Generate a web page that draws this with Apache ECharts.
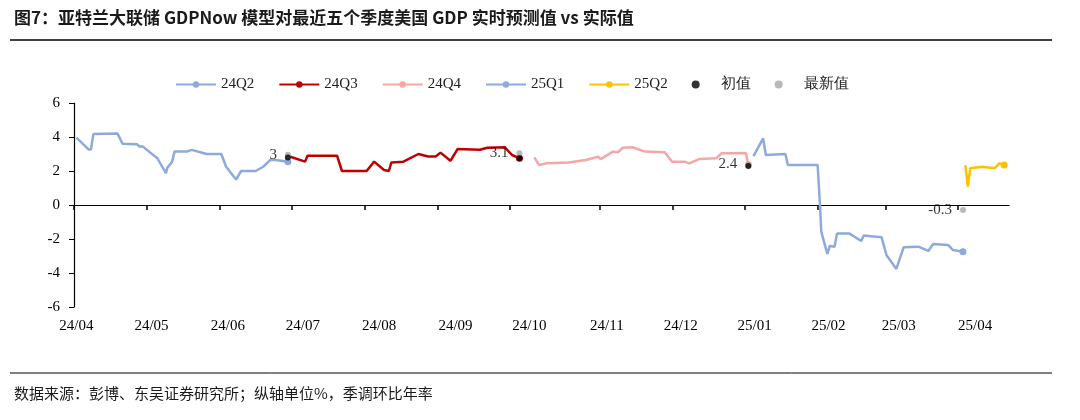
<!DOCTYPE html>
<html>
<head>
<meta charset="utf-8">
<script src="https://cdn.jsdelivr.net/npm/echarts@6/dist/echarts.min.js"></script>
<style>
  html, body { margin: 0; padding: 0; background: #fff; }
  #main { width: 1080px; height: 420px; }
</style>
</head>
<body>
<div id="main"></div>
<script>
// x = days since 2024-04-01
var tickDays = [0, 30, 60, 90, 120, 150, 180, 217, 247, 277, 307, 335, 365];
var labelDays = [1, 32, 63.5, 94.5, 126, 157.5, 188, 220, 250.5, 281, 311.5, 340.5, 372];
var monthLabels = ['24/04', '24/05', '24/06', '24/07', '24/08', '24/09', '24/10', '24/11', '24/12', '25/01', '25/02', '25/03', '25/04'];

var q224 = [[1,3.96],[6,3.27],[7,3.27],[8,4.17],[18,4.2],[20,3.6],[26,3.57],[27.2,3.43],[28.3,3.45],[34.4,2.75],[38,1.86],[38.4,2.16],[40.5,2.55],[41.5,3.14],[46.6,3.14],[48.6,3.24],[54.7,3.0],[60.8,3.0],[62.8,2.25],[66.9,1.5],[69,2.0],[75,2.0],[78.1,2.25],[81.1,2.65],[83.2,2.65],[88.3,2.55]];
var q324 = [[89.3,2.84],[95.4,2.55],[96.4,2.9],[108.6,2.9],[110.6,2.0],[114.7,2.0],[120.8,2.0],[123.9,2.55],[128,2.06],[130,2.0],[131,2.5],[136,2.55],[142.2,3.0],[146.2,2.85],[149.3,2.85],[151.3,3.08],[155.4,2.6],[158.4,3.3],[167.6,3.25],[170.6,3.37],[177.8,3.4],[180.8,2.94],[183.9,2.75]];
var q424 = [[190,2.8],[192,2.35],[195,2.45],[204.2,2.5],[211.3,2.65],[216.4,2.84],[217.4,2.7],[222.5,3.14],[224.5,3.1],[226.6,3.37],[230.6,3.4],[235.7,3.14],[243.9,3.1],[246.9,2.55],[252,2.55],[254,2.45],[258.1,2.7],[265.2,2.75],[267.3,3.04],[277.4,3.06],[278.4,2.35]];
var q125 = [[280.5,2.88],[284.5,3.92],[285.6,2.94],[293.7,3.0],[294.7,2.35],[307,2.35],[308,-0.1],[308.5,-1.57],[311,-2.88],[312,-2.41],[314,-2.45],[315,-1.67],[320,-1.67],[325,-2.12],[326,-1.8],[333.4,-1.9],[335.4,-2.94],[339.5,-3.76],[342.5,-2.49],[348.6,-2.45],[352.7,-2.7],[354.7,-2.3],[360.8,-2.35],[362.9,-2.65],[367,-2.75]];
var q225 = [[368,2.35],[369,1.08],[370,2.16],[375,2.25],[380,2.16],[382,2.45],[384,2.35]];
var initialVals = [[88.3,2.8],[183.9,2.75],[278.4,2.3]];
var latestVals = [[88.3,2.95,'3'],[183.9,3.05,'3.1'],[278.4,2.4,'2.4'],[367,-0.3,'-0.3']];

var serif = 'Liberation Serif';

function lineSeries(name, data, color) {
  return {
    name: name, type: 'line', data: data, xAxisIndex: 0,
    symbol: 'circle', showAllSymbol: true,
    symbolSize: function (v, p) { return p.dataIndex === data.length - 1 ? 7 : 0; },
    lineStyle: { color: color, width: 2.5 },
    itemStyle: { color: color },
    z: 2
  };
}

var chart = echarts.init(document.getElementById('main'));
chart.setOption({
  animation: false,
  textStyle: { fontFamily: serif },
  graphic: [
    { type: 'text', left: 14, top: 9, style: { text: '图7：亚特兰大联储 GDPNow 模型对最近五个季度美国 GDP 实时预测值 vs 实际值', font: 'bold 17px "Noto Sans CJK SC", serif', fill: '#1a1a1a' } },
    { type: 'line', shape: { x1: 10, y1: 40, x2: 1052, y2: 40 }, style: { stroke: '#000', lineWidth: 1.5 } },
    { type: 'line', shape: { x1: 10, y1: 373, x2: 1052, y2: 373 }, style: { stroke: '#000', lineWidth: 1 } },
    { type: 'text', left: 14, top: 386, style: { text: '数据来源：彭博、东吴证券研究所；纵轴单位%，季调环比年率', font: '15px "Noto Sans CJK SC", serif', fill: '#1a1a1a' } }
  ],
  legend: {
    top: 72, left: 170, itemWidth: 40, itemHeight: 8, itemGap: 24,
    textStyle: { fontFamily: serif, fontSize: 15, color: '#222' },
    data: ['24Q2', '24Q3', '24Q4', '25Q1', '25Q2', '初值', '最新值']
  },
  grid: { left: 74, right: 71, top: 103, bottom: 113 },
  xAxis: [{
    type: 'value', min: 0, max: 386,
    axisLine: { onZero: true, lineStyle: { color: '#000', width: 1.2 } },
    axisTick: { customValues: tickDays, length: 5, lineStyle: { color: '#000', width: 1.5 } },
    axisLabel: { show: false },
    splitLine: { show: false }
  }, {
    type: 'value', min: 0, max: 386, position: 'bottom',
    axisLine: { show: false }, axisTick: { show: false },
    axisLabel: { customValues: labelDays, formatter: function (v) { return monthLabels[labelDays.indexOf(v)]; }, fontSize: 15, color: '#000', fontFamily: serif, margin: 12 },
    splitLine: { show: false }
  }],
  yAxis: {
    type: 'value', min: -6, max: 6, interval: 2,
    axisLine: { show: true, lineStyle: { color: '#000', width: 1.2 } },
    axisTick: { show: true, length: 5, lineStyle: { color: '#000' } },
    axisLabel: { fontSize: 15, color: '#000', fontFamily: serif, margin: 14 },
    splitLine: { show: false }
  },
  series: [
    lineSeries('24Q2', q224, '#8EA9DB'),
    lineSeries('24Q3', q324, '#C00000'),
    lineSeries('24Q4', q424, '#F4A7A7'),
    lineSeries('25Q1', q125, '#8EA9DB'),
    lineSeries('25Q2', q225, '#FFC000'),
    { name: '初值', type: 'scatter', data: initialVals, symbolSize: 6, itemStyle: { color: '#000' }, z: 4 },
    { name: '最新值', type: 'scatter', data: latestVals, symbolSize: 6, itemStyle: { color: '#A6A6A6' }, z: 3,
      label: { show: true, position: 'left', distance: 8, formatter: function (p) { return p.data[2]; }, fontSize: 15, color: '#000', fontFamily: serif } }
  ]
});
</script>
</body>
</html>
